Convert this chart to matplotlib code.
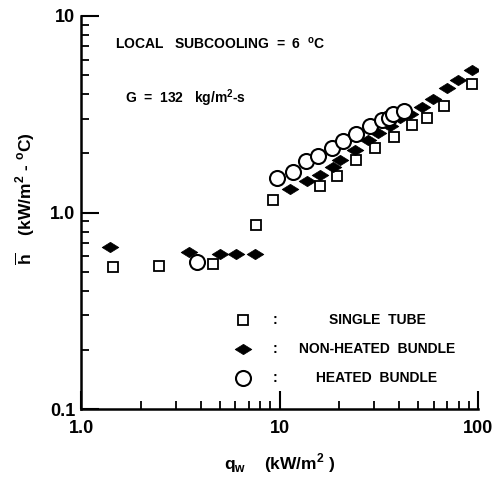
import matplotlib
matplotlib.use("Agg")
import matplotlib.pyplot as plt
from matplotlib.ticker import LogLocator, FixedLocator, NullFormatter
from matplotlib.path import Path

plt.rcParams['font.family'] = ['Liberation Sans', 'DejaVu Sans']

# Single tube
single_q = [1.45, 2.47, 4.62, 7.62, 9.26, 16.0, 19.5, 24.3, 30.4, 37.7, 46.4, 55.1, 67.3, 93.0]
single_h = [0.525, 0.537, 0.550, 0.859, 1.16, 1.37, 1.54, 1.84, 2.12, 2.43, 2.80, 3.04, 3.50, 4.49]

# Non-heated bundle
nonheat_q = [1.40, 3.50, 5.02, 6.04, 7.53, 11.3, 13.8, 16.0, 18.6, 20.2, 24.0, 27.9, 31.4,
             36.0, 40.5, 45.4, 52.2, 59.3, 69.8, 79.3, 93.3]
nonheat_h = [0.671, 0.626, 0.618, 0.618, 0.618, 1.31, 1.45, 1.56, 1.71, 1.86, 2.09, 2.33, 2.55,
             2.77, 3.01, 3.19, 3.46, 3.76, 4.28, 4.70, 5.34]

# Heated bundle
heat_q = [3.84, 9.71, 11.7, 13.6, 15.6, 18.4, 20.9, 24.3, 28.6, 32.8, 35.6, 37.3, 42.4]
heat_h = [0.557, 1.49, 1.60, 1.82, 1.95, 2.12, 2.32, 2.52, 2.74, 2.94, 3.04, 3.19, 3.27]

x_ticks = [1.0, 10, 100]
x_ticklabels = ["1.0", "10", "100"]
y_ticks = [0.1, 1.0, 10]
y_ticklabels = ["0.1", "1.0", "10"]

legend_labels = ["SINGLE  TUBE", "NON-HEATED  BUNDLE", "HEATED  BUNDLE"]

diamond = Path([(-1, 0), (0, 0.62), (1, 0), (0, -0.62), (-1, 0)],
               [Path.MOVETO, Path.LINETO, Path.LINETO, Path.LINETO, Path.CLOSEPOLY])

fig = plt.figure(figsize=(4.92, 4.79), dpi=100)
ax = fig.add_axes([81/492, 1 - 409/479, (478 - 81)/492, (409 - 16)/479])
ax.set_xscale('log')
ax.set_yscale('log')
ax.set_xlim(1, 100)
ax.set_ylim(0.1, 10)

sq_style = dict(marker='s', ms=7.2, mfc='white', mec='black', mew=1.3, ls='none')
dm_style = dict(marker=diamond, ms=12, mfc='black', mec='black', mew=0.5, ls='none')
ci_style = dict(marker='o', ms=10.8, mfc='white', mec='black', mew=1.5, ls='none')

ax.plot(single_q, single_h, zorder=3, **sq_style)
ax.plot(nonheat_q, nonheat_h, zorder=4, **dm_style)
ax.plot(heat_q, heat_h, zorder=5, **ci_style)

for s in ['top', 'right']:
    ax.spines[s].set_visible(False)
for s in ['left', 'bottom']:
    ax.spines[s].set_linewidth(1.8)

ax.xaxis.set_major_locator(FixedLocator(x_ticks))
ax.yaxis.set_major_locator(FixedLocator(y_ticks))
ax.xaxis.set_minor_locator(LogLocator(base=10, subs=range(2, 10)))
ax.yaxis.set_minor_locator(LogLocator(base=10, subs=range(2, 10)))
ax.xaxis.set_minor_formatter(NullFormatter())
ax.yaxis.set_minor_formatter(NullFormatter())
ax.set_xticklabels(x_ticklabels, fontsize=13, fontweight='bold')
ax.set_yticklabels(y_ticklabels, fontsize=13, fontweight='bold')
ax.tick_params(which='major', direction='in', length=13, width=1.5)
ax.tick_params(axis='x', which='major', pad=8)
ax.tick_params(axis='y', which='major', pad=4)
ax.tick_params(which='minor', direction='in', length=6, width=1.3)

ax.set_xlabel(r"q$_\mathregular{w}$    (kW/m$^\mathregular{2}$ )", fontsize=12.5,
              fontweight='bold', labelpad=10)
ax.set_ylabel(r"$\overline{\mathregular{h}}$    (kW/m$^\mathregular{2}$ - $^\mathregular{o}$C)",
              fontsize=12.5, fontweight='bold')
ax.yaxis.set_label_coords(-0.11, 0.535)

ax.text(0.085, 0.93, r"LOCAL   SUBCOOLING  =  6  $^\mathregular{o}$C", transform=ax.transAxes,
        fontsize=10, fontweight='bold', va='center', ha='left')
ax.text(0.11, 0.79, r"G  =  132   kg/m$^\mathregular{2}$-s", transform=ax.transAxes,
        fontsize=10, fontweight='bold', va='center', ha='left')

leg_y = [1 - (320 - 16)/393, 1 - (349 - 16)/393, 1 - (378 - 16)/393]
leg_styles = [sq_style, dm_style, ci_style]
for yy, st, lab in zip(leg_y, leg_styles, legend_labels):
    ax.plot([(243 - 81)/397], [yy], transform=ax.transAxes, clip_on=False, **st)
    ax.text((275 - 81)/397, yy, ":", transform=ax.transAxes, fontsize=10,
            fontweight='bold', ha='center', va='center')
    ax.text((377 - 81)/397, yy, lab, transform=ax.transAxes, fontsize=10,
            fontweight='bold', ha='center', va='center')

fig.savefig("out.png", dpi=100)
